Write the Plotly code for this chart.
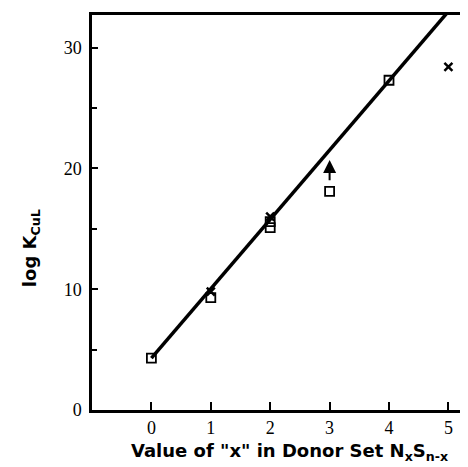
import plotly.graph_objects as go

# data
sq_x = [0, 1, 2, 2, 3, 4]
sq_y = [4.3, 9.3, 15.1, 15.6, 18.1, 27.3]
cross_x = [1, 2, 5]
cross_y = [9.8, 16.0, 28.4]
line_x = [0, 5]
line_y = [4.3, 33.0]
arrow_x = 3
arrow_from = 18.9
arrow_to = 20.7
x_ticks = [0, 1, 2, 3, 4, 5]
y_ticks = [0, 10, 20, 30]
x_title = 'Value of "x" in Donor Set N<sub>x</sub>S<sub>n-x</sub>'
y_title = "log K<sub>CuL</sub>"

fig = go.Figure()
fig.add_trace(go.Scatter(x=line_x, y=line_y, mode="lines",
                         line=dict(color="black", width=3.5), showlegend=False))
fig.add_trace(go.Scatter(x=sq_x, y=sq_y, mode="markers",
                         marker=dict(symbol="square-open", size=9, color="black",
                                     line=dict(width=1.8)), showlegend=False))
fig.add_trace(go.Scatter(x=cross_x, y=cross_y, mode="markers",
                         marker=dict(symbol="x-thin-open", size=8, color="black",
                                     line=dict(width=2.5, color="black")), showlegend=False))
fig.add_annotation(x=arrow_x, y=arrow_to, ax=arrow_x, ay=arrow_from,
                   xref="x", yref="y", axref="x", ayref="y", text="",
                   showarrow=True, arrowhead=2, arrowsize=1.3, arrowwidth=2,
                   arrowcolor="black")
fig.add_annotation(text=x_title, xref="paper", yref="paper", x=0.524, y=-0.106,
                   showarrow=False, xanchor="center", yanchor="middle",
                   font=dict(family="DejaVu Sans", size=18, weight="bold", color="black"))
fig.add_annotation(text=y_title, xref="paper", yref="paper", x=-0.162, y=0.41,
                   showarrow=False, xanchor="center", yanchor="middle", textangle=-90,
                   font=dict(family="DejaVu Sans", size=18, weight="bold", color="black"))

fig.update_layout(
    width=460, height=459,
    margin=dict(l=84, r=0, t=7, b=57),
    plot_bgcolor="white", paper_bgcolor="white",
    font=dict(family="Liberation Serif", color="black", size=18),
    xaxis=dict(range=[-1.0, 5.33], tickvals=x_ticks, ticks="inside", ticklen=8,
               tickwidth=1.5, tickcolor="black",
               showline=True, linecolor="black", linewidth=2.5, mirror=True,
               showgrid=False, zeroline=False,
               tickfont=dict(family="Liberation Serif", size=18)),
    yaxis=dict(range=[0, 32.7], tickvals=y_ticks, ticks="inside", ticklen=6,
               tickwidth=1.5, tickcolor="black",
               minor=dict(tickvals=[5, 15, 25], ticks="inside", ticklen=5,
                          tickwidth=1.5, tickcolor="black"),
               showline=True, linecolor="black", linewidth=2.5, mirror=False,
               showgrid=False, zeroline=False,
               ticklabelstandoff=4,
               tickfont=dict(family="Liberation Serif", size=18)),
)

fig.write_html("out.html")
